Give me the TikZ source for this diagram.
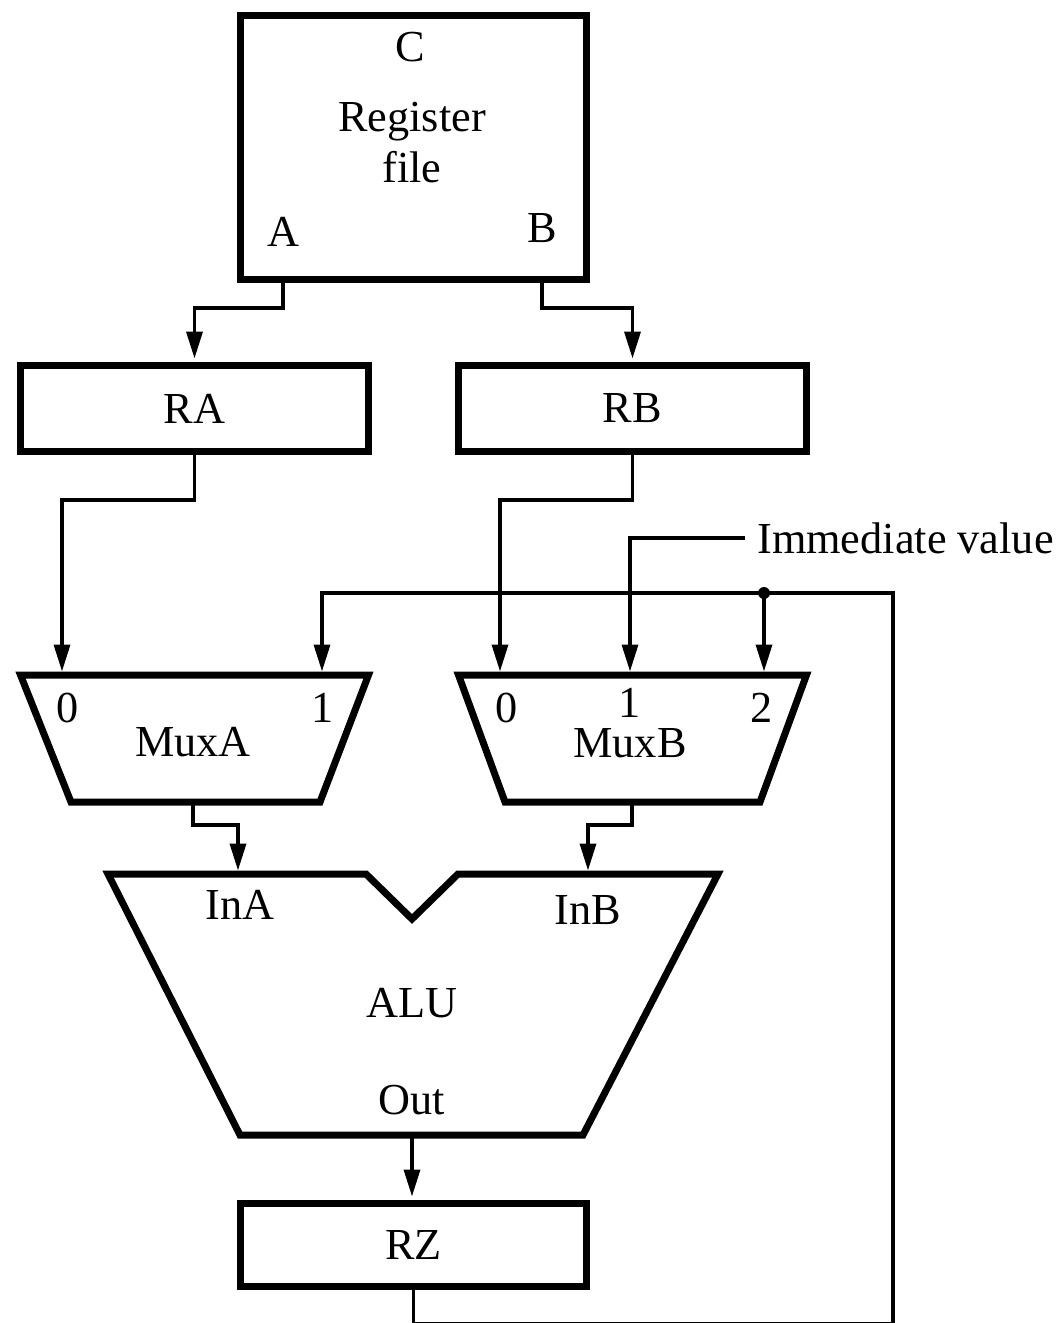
\documentclass[tikz,border=0pt]{standalone}
\usepackage{fontspec}
\setmainfont{Liberation Serif}
\usetikzlibrary{arrows.meta}

\begin{document}
\begin{tikzpicture}[x=0.02cm, y=-0.02cm,
	font=\fontsize{25.2}{30}\selectfont,
	box/.style={draw, line width=0.14cm, inner sep=0pt},
	shapebox/.style={draw, line width=0.14cm, line join=miter},
	wire/.style={line width=0.07cm},
	feed/.style={wire, shorten >=0.07cm, -{Triangle[length=0.54cm, width=0.32cm]}},
	lbl/.style={inner sep=0pt}]
	\useasboundingbox (0,0) rectangle (1059,1323);

	\node[box, minimum width=6.92cm, minimum height=5.28cm] (RF) at (413.5,147.5) {};
	\node[lbl] (C) at (410,47) {C};
	\node[lbl, anchor=base] (Reg) at (412,131) {Register};
	\node[lbl] (file) at (412,167) {file};
	\node[lbl] (A) at (283,232) {A};
	\node[lbl] (B) at (542,228) {B};

	\node[box, minimum width=6.96cm, minimum height=1.72cm] (RA) at (194.5,408.5) {RA};
	\node[box, minimum width=6.96cm, minimum height=1.72cm] (RB) at (632.5,408.5) {RB};

	\draw[shapebox] (20.5,675) -- (368.5,675) -- (320,802) -- (71,802) -- cycle;
	\draw[shapebox] (458.5,675) -- (806.5,675) -- (760,802) -- (505,802) -- cycle;
	\draw[shapebox] (108,874) -- (366,874) -- (412,919) -- (458,874) -- (718,874)
		-- (583,1135) -- (240,1135) -- cycle;

	\coordinate (MA0) at (62,675);
	\coordinate (MA1) at (322,675);
	\coordinate (MB0) at (500,675);
	\coordinate (MB1) at (630,675);
	\coordinate (MB2) at (764,675);
	\coordinate (MAo) at (193,802);
	\coordinate (MBo) at (632,802);
	\coordinate (InAp) at (238,874);
	\coordinate (InBp) at (588,874);
	\coordinate (ALUo) at (412,1135);
	\coordinate (tap) at (764,593);

	\node[lbl] (MA0t) at (68,708) {0};
	\node[lbl] (MA1t) at (323,708) {1};
	\node[lbl] (MuxA) at (193,742) {MuxA};
	\node[lbl] (MB0t) at (507,708) {0};
	\node[lbl] (MB1t) at (630,703) {1};
	\node[lbl] (MB2t) at (762,708) {2};
	\node[lbl] (MuxB) at (630,743) {MuxB};

	\node[lbl] (InA) at (240,905) {InA};
	\node[lbl] (InB) at (588,910) {InB};
	\node[lbl] (ALU) at (412,1003) {ALU};
	\node[lbl] (Out) at (412,1100) {Out};

	\node[box, minimum width=6.92cm, minimum height=1.66cm] (RZ) at (413.5,1245) {RZ};

	\node[anchor=west, inner xsep=0.24cm, inner ysep=0pt] (Imm) at (745,538) {Immediate value};

	\draw[feed] (A |- RF.south) -- ++(0,25) -| (RA.north);
	\draw[feed] (B |- RF.south) -- ++(0,25) -| (RB.north);
	\draw[feed] (RA.south) -- ++(0,45) -| (MA0);
	\draw[feed] (RB.south) -- ++(0,45) -| (MB0);
	\draw[feed] (Imm.west) -| (MB1);
	\draw[feed] (RZ.south) -- ++(0,33.5) -| (893,593) -| (MA1);
	\fill (tap) circle[radius=0.12cm];
	\draw[feed] (tap) -- (MB2);
	\draw[feed] (MAo) -- ++(0,23) -| (InAp);
	\draw[feed] (MBo) -- ++(0,23) -| (InBp);
	\draw[feed] (ALUo) -- (ALUo |- RZ.north);
\end{tikzpicture}
\end{document}
